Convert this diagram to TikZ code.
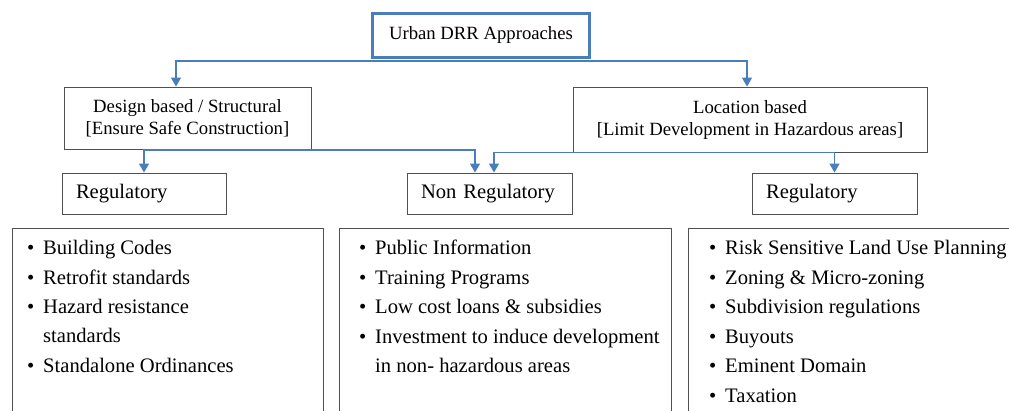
\documentclass[tikz,border=0pt]{standalone}
\usepackage{fontspec}
\setmainfont{Liberation Serif}
\usetikzlibrary{arrows.meta}
\definecolor{linkblue}{HTML}{4A7EBB}
\definecolor{boxgray}{HTML}{505050}
\newcommand{\bul}{\makebox[16pt][l]{\textbullet}}
\newcommand{\ind}{\hspace*{16pt}}

\begin{document}
\begin{tikzpicture}[x=1pt,y=-1pt,>={Triangle[width=10pt,length=9pt]},
headbox/.style={draw=linkblue,line width=3pt,minimum width=217pt,minimum height=44pt,inner sep=0pt,font=\fontsize{18.7}{22}\selectfont},
groupbox/.style={draw=boxgray,line width=0.9pt,align=center,inner sep=0pt,font=\fontsize{18.7}{22}\selectfont},
kindbox/.style={draw=boxgray,line width=0.9pt,minimum height=41pt,inner xsep=14pt,inner ysep=0pt,text width=137pt,align=left,font=\fontsize{20.6}{24}\selectfont},
listbox/.style={draw=boxgray,line width=0.9pt,minimum height=200pt,inner sep=0pt,anchor=north west},
listtext/.style={anchor=north west,inner sep=0pt,align=left,font=\fontsize{20.6}{29.5}\selectfont},
link/.style={->,draw=linkblue,line width=1.3pt}]
\useasboundingbox (0,0) rectangle (1009,410);
% top level and the two approaches
\node[headbox] (root) at (481,35.5) {Urban DRR Approaches};
\node[groupbox,minimum width=247pt,minimum height=62pt] (design) at (187.5,118) {Design based / Structural\\ {[}Ensure Safe Construction{]}};
\node[groupbox,minimum width=354pt,minimum height=65pt] (loc) at (750,119.5) {Location based\\ {[}Limit Development in Hazardous areas{]}};
% kinds of measures
\node[kindbox,text width=136pt] (reg1) at (144,193.5) {Regulatory};
\node[kindbox] (nonreg) at (489.5,193.5) {Non Regulatory};
\node[kindbox] (reg2) at (834.5,193.5) {Regulatory};
% lists of measures
\node[listbox,minimum width=311pt] (list1) at (12,228) {};
\node[listbox,minimum width=332pt] (list2) at (339,228) {};
\node[listbox,minimum width=400pt] (list3) at (688,228) {};
\node[listtext] (items1) at (27,240) {\bul Building Codes\\ \bul Retrofit standards\\ \bul Hazard resistance\\ \ind standards\\ \bul Standalone Ordinances};
\node[listtext] (items2) at (359,240) {\bul Public Information\\ \bul Training Programs\\ \bul Low cost loans \& subsidies\\ \bul Investment to induce development\\ \ind in non- hazardous areas};
\node[listtext] (items3) at (709,240) {\bul Risk Sensitive Land Use Planning\\ \bul Zoning \& Micro-zoning\\ \bul Subdivision regulations\\ \bul Buyouts\\ \bul Eminent Domain\\ \bul Taxation};
% connectors
\draw[link] ([yshift=-2pt]root.south) -| ([xshift=-11.5pt]design.north);
\draw[link] ([yshift=-2pt]root.south) -| ([xshift=-3pt]loc.north);
\draw[link] ([yshift=-0.6pt]design.south) -| (reg1.north);
\draw[link] ([yshift=-0.6pt]design.south) -| ([xshift=-14.5pt]nonreg.north);
\draw[link] (loc.south) -| ([xshift=4.5pt]nonreg.north);
\draw[link] (loc.south) -| (reg2.north);
\end{tikzpicture}
\end{document}
